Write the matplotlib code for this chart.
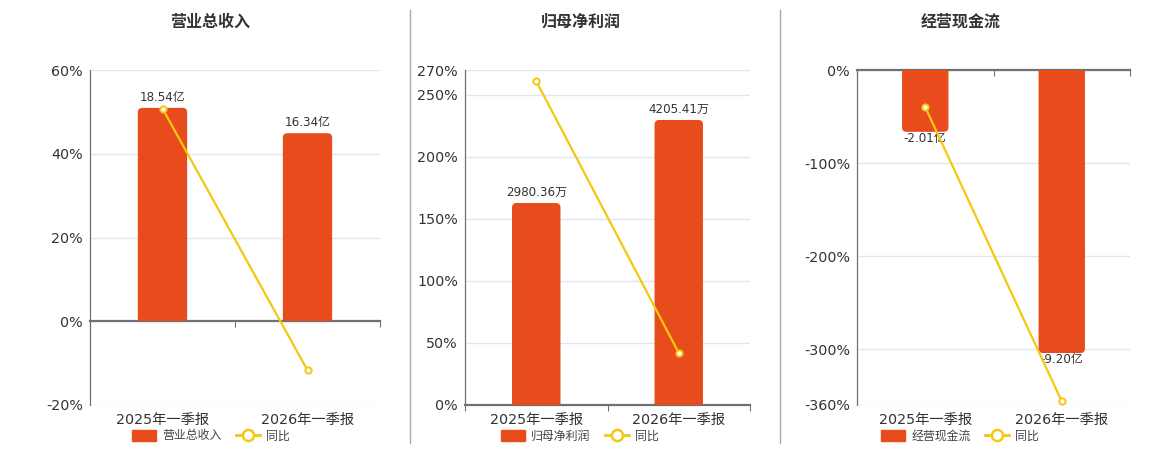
import matplotlib
matplotlib.use("Agg")
import matplotlib.pyplot as plt
from matplotlib.patches import Patch, FancyBboxPatch, Rectangle
from matplotlib.lines import Line2D
import matplotlib.transforms as mtransforms

plt.rcParams['font.family'] = ['DejaVu Sans', 'Noto Sans CJK SC']

# ---------------- data ----------------
categories = ['2025年一季报', '2026年一季报']

titles = ['营业总收入', '归母净利润', '经营现金流']

revenue = [18.54, 16.34]          # 亿
revenue_yoy = [50.8, -11.7]       # %

profit = [2980.36, 4205.41]       # 万
profit_yoy = [261.0, 42.0]        # %

cashflow = [-2.01, -9.20]         # 亿
cashflow_yoy = [-40.0, -356.0]    # %

units = ['亿', '万', '亿']

yoy_ticks = [
    [-20, 0, 20, 40, 60],
    [0, 50, 100, 150, 200, 250, 270],
    [-360, -300, -200, -100, 0],
]

# ---------------- style ----------------
BAR_COLOR = '#E84C1D'
LINE_COLOR = '#F3C80E'
TEXT_COLOR = '#333333'
AXIS_COLOR = '#6E7079'
GRID_COLOR = '#E0E6F1'

W, H = 1160, 450
fig = plt.figure(figsize=(W / 100, H / 100), dpi=100)

# axes pixel boxes: left, right, top, bottom
boxes = [(90, 380, 70, 405), (465, 750, 70, 405), (857, 1130, 70, 405)]
title_cx = [210, 581, 961]
legend_cx = [211, 580, 960]
# bar-axis limits (bottom/top values mapped to the plot box)
bar_lims = [(-21.83 / 3, 21.83), (0, 4943), (-10.89, 0)]
label_pad = [3, 3, 0]
RADIUS_PX = 4.5

bar_series = [revenue, profit, cashflow]
yoy_series = [revenue_yoy, profit_yoy, cashflow_yoy]

for i in range(3):
    l, r, t, b = boxes[i]
    ax = fig.add_axes([l / W, 1 - b / H, (r - l) / W, (b - t) / H])
    ticks = yoy_ticks[i]
    ylo, yhi = min(ticks), max(ticks)
    ax.set_xlim(-0.5, 1.5)
    ax.set_ylim(ylo, yhi)
    ax.set_yticks(ticks)
    ax.set_yticklabels([f'{v:g}%' for v in ticks])
    ax.tick_params(axis='y', colors=TEXT_COLOR, labelsize=10.3, length=0, pad=5)
    ax.grid(axis='y', color=GRID_COLOR, lw=1)
    ax.set_axisbelow(True)
    for s in ['top', 'right']:
        ax.spines[s].set_visible(False)
    ax.spines['left'].set_color(AXIS_COLOR)
    ax.spines['left'].set_linewidth(0.9)
    ax.spines['bottom'].set_position(('data', 0))
    ax.spines['bottom'].set_color(AXIS_COLOR)
    ax.spines['bottom'].set_linewidth(1.6)
    ax.set_xticks([-0.5, 0.5, 1.5])
    ax.set_xticklabels([])
    ax.tick_params(axis='x', length=4, width=0.8, color=AXIS_COLOR, direction='out')

    # category labels at the bottom of the box
    trans = mtransforms.blended_transform_factory(ax.transData, ax.transAxes)
    for xi, cat in enumerate(categories):
        ax.text(xi, -0.045, cat, transform=trans, ha='center', va='center',
                fontsize=10.3, color=TEXT_COLOR)

    # bars (library bars give geometry + labels; drawn as rounded patches)
    axb = ax.twinx()
    blo, bhi = bar_lims[i]
    axb.set_ylim(blo, bhi)
    axb.axis('off')
    vals = bar_series[i]
    bars = axb.bar(range(len(categories)), vals, width=0.34, color=BAR_COLOR, alpha=0)
    x_per_px = 2.0 / (r - l)
    y_per_px = (bhi - blo) / (b - t)
    rx = RADIUS_PX * x_per_px
    ry = RADIUS_PX * y_per_px
    for rect in bars:
        x0, w = rect.get_x(), rect.get_width()
        h = rect.get_height()
        if h >= 0:
            y0, hh = -ry, h + ry
            clip = Rectangle((-0.5, 0), 2, bhi * 2, transform=axb.transData)
        else:
            y0, hh = h, -h + ry
            clip = Rectangle((-0.5, blo * 2), 2, -blo * 2, transform=axb.transData)
        p = FancyBboxPatch((x0, y0), w, hh, boxstyle=f'round,pad=0,rounding_size={rx}',
                           mutation_aspect=y_per_px / x_per_px, facecolor=BAR_COLOR,
                           edgecolor='none', zorder=2)
        axb.add_patch(p)
        p.set_clip_path(clip)
    axb.bar_label(bars, labels=[f'{v:.2f}{units[i]}' for v in vals], padding=label_pad[i],
                  fontsize=8.6, color=TEXT_COLOR)

    # yoy line
    axl = ax.twinx()
    axl.set_ylim(ylo, yhi)
    axl.axis('off')
    axl.plot(range(len(categories)), yoy_series[i], color=LINE_COLOR, lw=1.6,
             marker='o', markersize=4.5, markerfacecolor='white',
             markeredgecolor=LINE_COLOR, markeredgewidth=1.4, zorder=3)

    # title
    fig.text(title_cx[i] / W, 1 - 22 / H, titles[i], ha='center', va='center',
             fontsize=11.5, fontweight='bold', color=TEXT_COLOR)

    # legend
    handles = [
        Patch(facecolor=BAR_COLOR, edgecolor=BAR_COLOR),
        Line2D([0], [0], color=LINE_COLOR, lw=2, marker='o', markersize=8,
               markerfacecolor='white', markeredgecolor=LINE_COLOR, markeredgewidth=1.8),
    ]
    fig.legend(handles, [titles[i], '同比'], loc='center',
               bbox_to_anchor=(legend_cx[i] / W, 1 - 436 / H), ncol=2, frameon=False,
               fontsize=8.6, handlelength=2.0, handleheight=1.15, handletextpad=0.5,
               columnspacing=1.2, labelcolor='#444444', borderpad=0.1)

# dividers
for x in [410, 780]:
    fig.add_artist(Line2D([x / W, x / W], [1 - 10 / H, 1 - 443 / H], color='#AAAAAA',
                          lw=1, transform=fig.transFigure))

fig.savefig('out.png', dpi=100)
